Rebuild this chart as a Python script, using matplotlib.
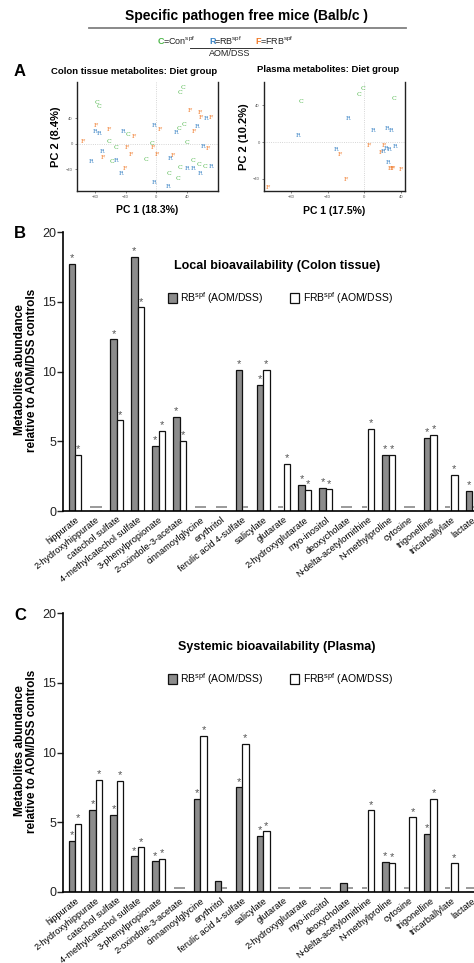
import numpy as np
import matplotlib
matplotlib.use("Agg")
import matplotlib.pyplot as plt
from matplotlib.patches import Rectangle
from matplotlib.lines import Line2D

plt.rcParams["font.family"] = ["Liberation Sans", "DejaVu Sans"]
plt.rcParams["mathtext.fontset"] = "custom"
plt.rcParams["mathtext.rm"] = "Liberation Sans"

# ---- PCA scores ----
colon_group = list("CCCCFFFRFCCRRFRFFRRFRCFFCCCFCRFFRFFRCRCFFRCCCCRRRRFRCCRR")
colon_pc1 = [-77, -74, 31, 34, 43, 56, 58, 65, 71, 36, 29, 53, 25, 48, -3, 5, -79, -80,
             -74, -62, -43, -37, -29, -95, -61, -52, -6, -4, 40, 60, 67, -38, -70, -69,
             -33, -85, -57, -53, -13, 1, 21, 18, 31, 47, 55, 63, 71, 40, 47, 57, -41,
             -46, 16, 28, -3, 15]
colon_pc2 = [65, 58, 81, 89, 52, 49, 41, 39, 41, 31, 24, 27, 18, 19, 29, 22, 29, 19,
             16, 23, 19, 15, 12, 3, 4, -5, 1, -6, 2, -4, -8, -6, -12, -21, -16, -28,
             -27, -26, -24, -17, -18, -23, -37, -26, -33, -36, -36, -39, -39, -46, -38,
             -46, -47, -55, -61, -67]

plasma_group = list("CCCCRRRRRFFRRFRRFRFFFFFFR")
plasma_pc1 = [-2, -6, 32, -69, -18, -72, 9, 25, 29, 5, 21, 23, 27, 18, 20, -31, -27,
              26, 27, 30, 40, -20, -105, 31, 33]
plasma_pc2 = [58, 52, 47, 44, 25, 7, 13, 15, 13, -4, -4, -7, -8, -11, -10, -8, -13,
              -22, -29, -29, -30, -41, -49, -29, -5]

# ---- bar data (fold change vs AOM/DSS controls; nan = not changed) ----
metabolites = ["hippurate", "2-hydroxyhippurate", "catechol sulfate",
               "4-methylcatechol sulfate", "3-phenylpropionate", "2-oxindole-3-acetate",
               "cinnamoylglycine", "erythritol", "ferulic acid 4-sulfate", "salicylate",
               "glutarate", "2-hydroxyglutarate", "myo-inositol", "deoxycholate",
               "N-delta-acetylornithine", "N-methylproline", "cytosine", "trigonelline",
               "tricarballylate", "lactate"]
nan = np.nan
colon_rb = [17.7, nan, 12.3, 18.2, 4.65, 6.75, nan, nan, 10.1, 9.05,
            nan, 1.85, 1.65, nan, nan, 4.0, nan, 5.25, nan, 1.45]
colon_frb = [4.05, nan, 6.5, 14.6, 5.75, 5.0, nan, nan, nan, 10.1,
             3.4, 1.5, 1.55, nan, 5.9, 4.0, nan, 5.45, 2.6, nan]
plasma_rb = [3.65, 5.9, 5.5, 2.55, 2.2, nan, 6.7, 0.8, 7.5, 4.0,
             nan, nan, nan, 0.65, nan, 2.15, nan, 4.15, nan, nan]
plasma_frb = [4.9, 8.05, 7.95, 3.2, 2.35, nan, 11.2, nan, 10.6, 4.35,
              nan, nan, nan, nan, 5.85, 2.1, 5.35, 6.7, 2.05, nan]
plasma_rb_nostar = ["erythritol", "deoxycholate"]

GREEN, BLUE, ORANGE = "#4cb648", "#3d85c6", "#f07a2a"
group_color = {"C": GREEN, "R": BLUE, "F": ORANGE}

fig = plt.figure(figsize=(4.74, 9.63), dpi=100)
W, H = 474, 963


def fx(px):
    return px / W


def fy(py):
    return 1 - py / H


# ---- header ----
fig.text(fx(247), fy(16), "Specific pathogen free mice (Balb/c )", ha="center", va="center",
         fontsize=10, fontweight="bold")
fig.add_artist(Line2D([fx(89), fx(406)], [fy(28), fy(28)], color="#808080", lw=1.3))
hdr = [(158, "C", GREEN), (163, r"=Con$^{\rm spf}$", "#222222"),
       (209, "R", BLUE), (214, r"=RB$^{\rm spf}$", "#222222"),
       (255, "F", ORANGE), (260, r"=FRB$^{\rm spf}$", "#222222")]
for px, s, c in hdr:
    fig.text(fx(px), fy(41), s, ha="left", va="center", fontsize=6.5, color=c,
             fontweight="bold" if len(s) == 1 else "normal")
fig.add_artist(Line2D([fx(190), fx(272)], [fy(48), fy(48)], color="#333333", lw=0.7))
fig.text(fx(230), fy(54), "AOM/DSS", ha="center", va="center", fontsize=6.5, color="#222222")

fig.text(fx(20), fy(72), "A", ha="center", va="center", fontsize=12, fontweight="bold")
fig.text(fx(134), fy(71), "Colon tissue metabolites: Diet group", ha="center", va="center",
         fontsize=6.8, fontweight="bold")
fig.text(fx(328), fy(70), "Plasma metabolites: Diet group", ha="center", va="center",
         fontsize=6.8, fontweight="bold")


def pca_panel(rect, groups, pc1, pc2, xlim, ylim, xlab, ylab, ylab_x, xlab_y):
    ax = fig.add_axes(rect)
    ax.axhline(0, color="#c8c8c8", lw=0.6, ls=":")
    ax.axvline(0, color="#c8c8c8", lw=0.6, ls=":")
    for g, x, y in zip(groups, pc1, pc2):
        ax.text(x, y, g, color=group_color[g], fontsize=4.5, ha="center", va="center",
                family="DejaVu Serif")
    ax.set_xlim(*xlim)
    ax.set_ylim(*ylim)
    ax.set_xticks([-80, -40, 0, 40])
    ax.set_yticks([-40, 0, 40])
    ax.tick_params(labelsize=3, colors="#555555", length=1.5, width=0.5, pad=1.5)
    ax.spines["top"].set_visible(False)
    for s in ["left", "right", "bottom"]:
        ax.spines[s].set_linewidth(1.0)
        ax.spines[s].set_color("#222222")
    x0, w = rect[0], rect[2]
    fig.text(x0 + w / 2, fy(xlab_y), xlab, ha="center", va="center", fontsize=7.5,
             fontweight="bold")
    fig.text(fx(ylab_x), rect[1] + rect[3] / 2, ylab, ha="center", va="center",
             fontsize=8, fontweight="bold", rotation=90)
    return ax


pca_panel([fx(77), fy(191), fx(141), 109 / H], colon_group, colon_pc1, colon_pc2,
          (-103, 80), (-74, 97), "PC 1 (18.3%)", "PC 2 (8.4%)", 56, 210)
pca_panel([fx(264), fy(191), fx(141), 109 / H], plasma_group, plasma_pc1, plasma_pc2,
          (-109, 44), (-53, 65), "PC 1 (17.5%)", "PC 2 (10.2%)", 244, 211)


def bar_panel(top_px, letter, title, rb, frb, nostar):
    ax = fig.add_axes([fx(63), fy(top_px + 279), fx(411), 279 / H])
    x = np.arange(len(metabolites))
    bw = 0.31
    rb = np.array(rb, dtype=float)
    frb = np.array(frb, dtype=float)
    ax.bar(x - bw / 2, np.nan_to_num(rb), bw, color="#8c8c8c", edgecolor="#111111",
           linewidth=0.9)
    ax.bar(x + bw / 2, np.nan_to_num(frb), bw, color="white", edgecolor="#111111",
           linewidth=0.9)
    for i, name in enumerate(metabolites):
        r, f = rb[i], frb[i]
        if np.isnan(r) and np.isnan(f):
            ax.plot([i - 0.27, i + 0.27], [0.3, 0.3], color="#9a9a9a", lw=1.4,
                    solid_capstyle="butt")
            continue
        if np.isnan(r):
            ax.plot([i - 0.28, i - 0.04], [0.3, 0.3], color="#9a9a9a", lw=1.4,
                    solid_capstyle="butt")
        elif name not in nostar:
            ax.text(i - bw / 2, r + 0.05, "*", ha="center", va="bottom", fontsize=8,
                    color="#555555")
        if np.isnan(f):
            ax.plot([i + 0.04, i + 0.28], [0.3, 0.3], color="#9a9a9a", lw=1.4,
                    solid_capstyle="butt")
        else:
            ax.text(i + bw / 2, f + 0.05, "*", ha="center", va="bottom", fontsize=8,
                    color="#555555")
    ax.set_xlim(-0.574, 19.09)
    ax.set_ylim(0, 20)
    ax.set_yticks([0, 5, 10, 15, 20])
    ax.set_xticks(x)
    ax.set_xticklabels(metabolites, rotation=38, ha="right", rotation_mode="anchor",
                       fontsize=6.7)
    ax.tick_params(axis="x", length=0, pad=3)
    ax.tick_params(axis="y", labelsize=9, length=4, width=1, colors="#222222", pad=1)
    for s in ["top", "right"]:
        ax.spines[s].set_visible(False)
    for s in ["left", "bottom"]:
        ax.spines[s].set_linewidth(1.2)
    fig.text(fx(26), fy(top_px + 138),
             "Metabolites abundance\nrelative to AOM/DSS controls", ha="center",
             va="center", rotation=90, fontsize=8.5, fontweight="bold", linespacing=1.1)
    fig.text(fx(20), fy(top_px + 2), letter, ha="center", va="center", fontsize=12,
             fontweight="bold")
    fig.text(fx(277), fy(top_px + 34), title, ha="center", va="center", fontsize=9,
             fontweight="bold")
    ly = top_px + 66
    fig.add_artist(Rectangle((fx(168), fy(ly + 5)), fx(9), 10 / H, facecolor="#8c8c8c",
                             edgecolor="#111111", lw=0.9))
    fig.text(fx(180), fy(ly), r"RB$^{\rm spf}$ (AOM/DSS)", ha="left", va="center",
             fontsize=7.5)
    fig.add_artist(Rectangle((fx(290), fy(ly + 5)), fx(9), 10 / H, facecolor="white",
                             edgecolor="#111111", lw=0.9))
    fig.text(fx(303), fy(ly), r"FRB$^{\rm spf}$ (AOM/DSS)", ha="left", va="center",
             fontsize=7.5)
    return ax


bar_panel(232, "B", "Local bioavailability (Colon tissue)", colon_rb, colon_frb, [])
bar_panel(613, "C", "Systemic bioavailability (Plasma)", plasma_rb, plasma_frb,
          plasma_rb_nostar)

fig.savefig("out.png", dpi=100)
